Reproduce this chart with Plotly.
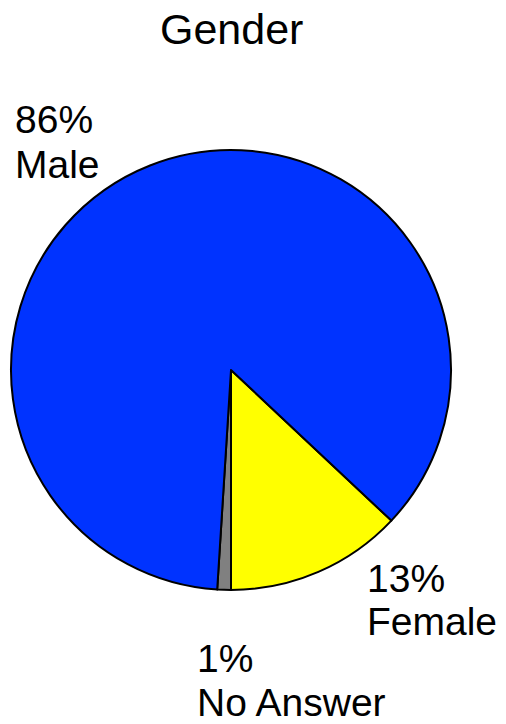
import plotly.graph_objects as go

labels = ["Female", "No Answer", "Male"]
values = [13, 1, 86]
colors = ["#FFFF00", "#808080", "#0033FF"]
pct_text = ["13%", "1%", "86%"]
# reference pixel positions: left x, cap-centre y of the percent line and the name line
label_x = [365, 195, 13]
pct_y = [578.5, 658.5, 119.5]
name_y = [621.5, 702.5, 164.5]

OFF = 8  # page body margin
W, H = 506 - OFF, 724 - OFF


def px_x(x):
    return (x - OFF) / W


def px_y(y):
    return 1 - (y - OFF) / H


fig = go.Figure(go.Pie(
    labels=labels,
    values=values,
    sort=False,
    direction="clockwise",
    rotation=133.2,
    marker=dict(colors=colors, line=dict(color="black", width=2)),
    textinfo="none",
    hoverinfo="label+percent",
    showlegend=False,
    domain=dict(x=[px_x(11), px_x(451)], y=[px_y(590), px_y(150)]),
))

lab_font = dict(family="Liberation Sans, Arial", size=39, color="black")
for lab, pct, x, y1, y2 in zip(labels, pct_text, label_x, pct_y, name_y):
    for txt, yy in ((pct, y1), (lab, y2)):
        fig.add_annotation(
            text=txt, xref="paper", yref="paper",
            x=px_x(x), y=px_y(yy), xanchor="left", yanchor="middle",
            align="left", showarrow=False, font=lab_font,
        )

fig.add_annotation(
    text="Gender", xref="paper", yref="paper",
    x=px_x(231.5), y=px_y(29), xanchor="center", yanchor="middle",
    showarrow=False,
    font=dict(family="Liberation Sans, Arial", size=43, color="black"),
)

fig.update_layout(
    width=W, height=H,
    margin=dict(l=0, r=0, t=0, b=0),
    paper_bgcolor="white",
)

fig.write_html("out.html")
